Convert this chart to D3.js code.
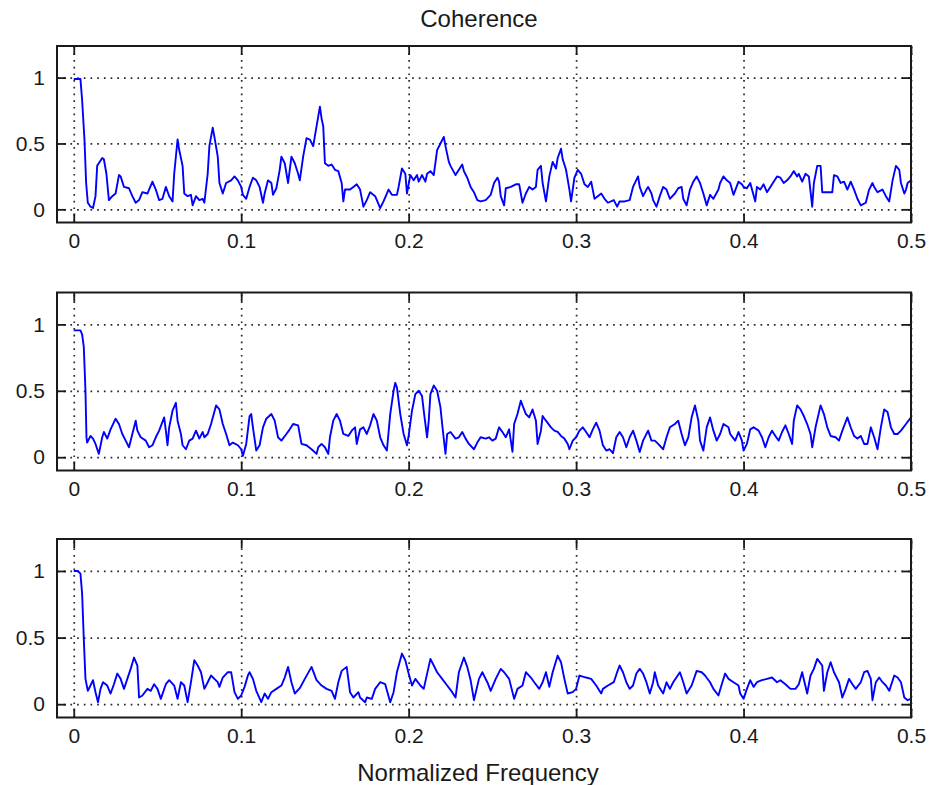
<!DOCTYPE html>
<html>
<head>
<meta charset="utf-8">
<script src="https://cdn.jsdelivr.net/npm/d3@7"></script>
<style>
  body { margin: 0; background: #fff; }
  svg text { font-family: "Liberation Sans", Arial, sans-serif; fill: #1a1a1a; }
</style>
</head>
<body>
<div id="chart"></div>
<script>
let xTicks = [0, 0.1, 0.2, 0.3, 0.4, 0.5];
let yTicks = [0, 0.5, 1];
let title = "Coherence";
let xLabel = "Normalized Frequency";

// [normalized frequency, coherence]
let coh1 = [
  [0,0.99],[0.004,0.99],[0.005,0.83],[0.0064,0.53],[0.0074,0.20],[0.0084,0.05],[0.010,0.02],[0.0115,0.01],[0.013,0.10],[0.014,0.33],[0.017,0.39],[0.018,0.38],[0.0195,0.27],[0.021,0.07],[0.023,0.10],[0.025,0.12],[0.027,0.26],[0.028,0.25],[0.030,0.17],[0.033,0.16],[0.035,0.10],[0.037,0.05],[0.039,0.07],[0.041,0.13],[0.044,0.12],[0.047,0.21],[0.049,0.15],[0.051,0.07],[0.053,0.08],[0.055,0.17],[0.057,0.10],[0.059,0.06],[0.060,0.27],[0.062,0.53],[0.063,0.45],[0.065,0.33],[0.066,0.12],[0.068,0.10],[0.070,0.11],[0.071,0.03],[0.073,0.10],[0.075,0.07],[0.077,0.08],[0.078,0.05],[0.080,0.27],[0.081,0.48],[0.083,0.62],[0.084,0.55],[0.086,0.40],[0.087,0.20],[0.089,0.12],[0.091,0.20],[0.094,0.22],[0.096,0.25],[0.098,0.22],[0.100,0.17],[0.101,0.11],[0.103,0.08],[0.105,0.17],[0.107,0.24],[0.109,0.22],[0.111,0.17],[0.113,0.05],[0.114,0.12],[0.116,0.22],[0.118,0.20],[0.119,0.11],[0.121,0.16],[0.123,0.30],[0.124,0.40],[0.126,0.35],[0.128,0.20],[0.129,0.30],[0.130,0.40],[0.132,0.35],[0.134,0.27],[0.135,0.22],[0.137,0.40],[0.139,0.54],[0.141,0.53],[0.143,0.48],[0.145,0.63],[0.147,0.78],
  [0.148,0.69],[0.149,0.63],[0.150,0.35],[0.152,0.33],[0.154,0.34],[0.156,0.30],[0.158,0.29],[0.160,0.20],[0.161,0.06],[0.162,0.15],[0.165,0.15],[0.167,0.17],[0.169,0.19],[0.171,0.15],[0.173,0.02],[0.175,0.07],[0.177,0.13],[0.180,0.10],[0.183,0.01],[0.185,0.06],[0.188,0.15],[0.190,0.11],[0.193,0.11],[0.194,0.17],[0.196,0.31],[0.198,0.27],[0.199,0.12],[0.201,0.26],[0.203,0.22],[0.205,0.26],[0.206,0.21],[0.208,0.26],[0.210,0.21],[0.211,0.27],[0.213,0.29],[0.215,0.26],[0.217,0.45],[0.219,0.50],[0.221,0.55],[0.222,0.48],[0.224,0.36],[0.225,0.33],[0.228,0.26],[0.230,0.30],[0.232,0.34],[0.233,0.29],[0.235,0.24],[0.237,0.17],[0.239,0.13],[0.241,0.07],[0.243,0.06],[0.246,0.07],[0.249,0.11],[0.251,0.20],[0.253,0.24],[0.254,0.21],[0.255,0.10],[0.257,0.03],[0.258,0.16],[0.261,0.17],[0.264,0.19],[0.266,0.19],[0.268,0.05],[0.270,0.12],[0.272,0.17],[0.274,0.15],[0.276,0.17],[0.277,0.30],[0.279,0.33],[0.280,0.20],[0.282,0.06],[0.284,0.25],[0.286,0.36],[0.288,0.31],[0.289,0.39],[0.291,0.46],[0.292,0.38],[0.294,0.30],[0.296,0.15],[0.297,0.06],[0.299,0.24],[0.301,0.30],[0.303,0.27],[0.305,0.19],[0.307,0.17],[0.309,0.21],[0.311,0.08],[0.313,0.10],[0.315,0.12],[0.317,0.08],[0.319,0.05],
  [0.3225,0.07],[0.3245,0.02],[0.326,0.06],[0.329,0.06],[0.332,0.07],[0.334,0.17],[0.337,0.25],[0.338,0.17],[0.340,0.10],[0.342,0.15],[0.343,0.17],[0.345,0.12],[0.346,0.07],[0.348,0.02],[0.350,0.10],[0.352,0.17],[0.354,0.15],[0.356,0.08],[0.359,0.12],[0.361,0.16],[0.363,0.17],[0.364,0.08],[0.366,0.03],[0.368,0.15],[0.370,0.21],[0.372,0.25],[0.374,0.20],[0.376,0.12],[0.378,0.03],[0.380,0.11],[0.382,0.08],[0.385,0.15],[0.386,0.20],[0.388,0.25],[0.390,0.22],[0.392,0.20],[0.394,0.11],[0.397,0.21],[0.399,0.19],[0.400,0.17],[0.402,0.16],[0.404,0.20],[0.407,0.06],[0.408,0.17],[0.410,0.15],[0.412,0.19],[0.414,0.13],[0.416,0.17],[0.418,0.21],[0.420,0.25],[0.422,0.24],[0.424,0.20],[0.426,0.22],[0.428,0.25],[0.430,0.29],[0.432,0.25],[0.433,0.27],[0.435,0.21],[0.437,0.27],[0.439,0.25],[0.441,0.02],[0.442,0.20],[0.444,0.33],[0.446,0.33],[0.447,0.13],[0.450,0.13],[0.453,0.13],[0.454,0.26],[0.456,0.25],[0.458,0.20],[0.460,0.21],[0.462,0.15],[0.464,0.21],[0.466,0.15],[0.468,0.08],[0.470,0.03],[0.473,0.05],[0.475,0.15],[0.477,0.20],[0.478,0.17],[0.480,0.13],[0.483,0.15],[0.485,0.10],[0.487,0.06],[0.489,0.22],[0.491,0.33],[0.493,0.30],[0.494,0.20],[0.496,0.12],[0.497,0.15],[0.498,0.20],[0.500,0.22]
];

let coh2 = [
  [0,0.955],[0.004,0.955],[0.005,0.925],[0.006,0.83],[0.007,0.50],[0.0076,0.15],[0.008,0.11],[0.010,0.16],[0.0115,0.14],[0.013,0.10],[0.015,0.025],[0.017,0.15],[0.018,0.19],[0.020,0.14],[0.022,0.21],[0.025,0.29],[0.027,0.25],[0.029,0.175],[0.031,0.125],[0.033,0.075],[0.035,0.175],[0.037,0.275],[0.038,0.20],[0.040,0.15],[0.043,0.125],[0.045,0.075],[0.047,0.09],[0.049,0.15],[0.051,0.20],[0.054,0.30],[0.055,0.20],[0.056,0.09],[0.057,0.225],[0.059,0.35],[0.061,0.41],[0.062,0.275],[0.064,0.175],[0.065,0.09],[0.067,0.06],[0.069,0.125],[0.071,0.14],[0.073,0.20],[0.075,0.14],[0.077,0.19],[0.078,0.15],[0.080,0.175],[0.082,0.25],[0.085,0.39],[0.087,0.36],[0.089,0.25],[0.091,0.175],[0.093,0.09],[0.095,0.11],[0.098,0.09],[0.100,0.06],[0.101,0.01],[0.103,0.10],[0.105,0.31],[0.106,0.325],[0.107,0.225],[0.109,0.05],[0.111,0.09],[0.113,0.225],[0.115,0.29],[0.118,0.325],[0.120,0.275],[0.122,0.15],[0.124,0.125],[0.127,0.175],[0.129,0.21],[0.131,0.25],[0.134,0.24],
  [0.136,0.10],[0.139,0.09],[0.142,0.06],[0.145,0.025],[0.146,0.075],[0.148,0.10],[0.150,0.075],[0.152,0.025],[0.153,0.15],[0.155,0.275],[0.157,0.325],[0.159,0.275],[0.161,0.175],[0.164,0.16],[0.166,0.20],[0.168,0.225],[0.169,0.10],[0.171,0.21],[0.173,0.225],[0.175,0.175],[0.177,0.24],[0.179,0.325],[0.181,0.275],[0.183,0.15],[0.185,0.09],[0.187,0.05],[0.189,0.325],[0.191,0.50],[0.192,0.56],[0.193,0.525],[0.195,0.325],[0.197,0.175],[0.199,0.09],[0.200,0.16],[0.202,0.35],[0.204,0.475],[0.206,0.50],[0.208,0.46],[0.209,0.35],[0.211,0.15],[0.212,0.275],[0.213,0.475],[0.215,0.54],[0.217,0.50],[0.219,0.375],[0.220,0.25],[0.222,0.025],[0.223,0.175],[0.225,0.19],[0.228,0.14],[0.230,0.15],[0.232,0.19],[0.234,0.14],[0.236,0.10],[0.239,0.06],[0.241,0.11],[0.243,0.15],[0.246,0.14],[0.248,0.15],[0.250,0.125],[0.252,0.14],[0.254,0.225],[0.256,0.19],[0.258,0.15],[0.260,0.21],[0.262,0.04],[0.263,0.25],[0.265,0.325],[0.267,0.425],[0.268,0.39],[0.270,0.325],[0.272,0.30],[0.274,0.36],[0.276,0.275],[0.277,0.10],[0.279,0.20],[0.280,0.31],[0.282,0.275],[0.285,0.225],[0.287,0.20],[0.289,0.19],[0.291,0.16],[0.293,0.14],[0.295,0.10],[0.296,0.06],[0.298,0.125],[0.300,0.15],[0.302,0.20],[0.304,0.225],[0.306,0.19],[0.308,0.15],[0.310,0.21],[0.312,0.26],[0.314,0.20],[0.316,0.09],[0.318,0.05],[0.320,0.06],
  [0.322,0.03],[0.324,0.15],[0.326,0.19],[0.328,0.15],[0.330,0.075],[0.332,0.15],[0.334,0.20],[0.336,0.125],[0.338,0.04],[0.340,0.125],[0.343,0.20],[0.345,0.125],[0.347,0.125],[0.349,0.10],[0.352,0.06],[0.354,0.15],[0.356,0.225],[0.359,0.25],[0.361,0.275],[0.363,0.175],[0.365,0.09],[0.367,0.15],[0.369,0.30],[0.371,0.39],[0.373,0.275],[0.374,0.125],[0.376,0.05],[0.378,0.225],[0.380,0.30],[0.382,0.20],[0.384,0.125],[0.386,0.175],[0.388,0.25],[0.391,0.225],[0.392,0.175],[0.395,0.125],[0.397,0.19],[0.399,0.125],[0.400,0.05],[0.402,0.10],[0.404,0.21],[0.406,0.225],[0.409,0.20],[0.411,0.15],[0.413,0.075],[0.415,0.15],[0.417,0.20],[0.419,0.16],[0.421,0.125],[0.423,0.19],[0.425,0.24],[0.427,0.175],[0.429,0.10],[0.430,0.275],[0.432,0.39],[0.434,0.36],[0.436,0.31],[0.438,0.25],[0.440,0.175],[0.441,0.075],[0.443,0.225],[0.446,0.39],[0.448,0.325],[0.450,0.225],[0.452,0.16],[0.455,0.15],[0.457,0.125],[0.459,0.20],[0.462,0.30],[0.464,0.225],[0.466,0.16],[0.468,0.14],[0.470,0.16],[0.472,0.10],[0.474,0.10],[0.476,0.225],[0.478,0.15],[0.480,0.06],[0.482,0.225],[0.484,0.36],[0.486,0.34],[0.488,0.225],[0.490,0.175],[0.492,0.175],[0.494,0.20],[0.497,0.25],[0.500,0.30]
];

let coh3 = [
  [0,1.0],[0.0024,1.0],[0.004,0.98],[0.005,0.83],[0.006,0.49],[0.007,0.19],[0.0084,0.10],[0.010,0.14],[0.0115,0.18],[0.013,0.09],[0.0145,0.015],[0.016,0.115],[0.0175,0.165],[0.020,0.14],[0.022,0.08],[0.024,0.15],[0.026,0.23],[0.028,0.19],[0.030,0.115],[0.032,0.19],[0.034,0.265],[0.036,0.35],[0.038,0.29],[0.039,0.05],[0.041,0.065],[0.044,0.115],[0.046,0.10],[0.048,0.15],[0.050,0.115],[0.052,0.04],[0.055,0.15],[0.057,0.18],[0.060,0.14],[0.062,0.04],[0.064,0.165],[0.066,0.14],[0.068,0.015],[0.070,0.165],[0.072,0.33],[0.074,0.29],[0.076,0.24],[0.078,0.115],[0.080,0.165],[0.082,0.215],[0.084,0.19],[0.086,0.165],[0.087,0.13],[0.089,0.20],[0.092,0.24],[0.094,0.24],[0.096,0.09],[0.098,0.04],[0.100,0.065],[0.102,0.13],[0.104,0.215],[0.105,0.24],[0.107,0.19],[0.109,0.10],[0.112,0.015],[0.114,0.08],[0.116,0.04],[0.118,0.09],[0.121,0.115],[0.124,0.14],[0.126,0.20],[0.128,0.28],[0.130,0.165],[0.132,0.08],
  [0.135,0.12],[0.138,0.19],[0.142,0.28],[0.145,0.18],[0.148,0.14],[0.151,0.115],[0.154,0.10],[0.156,0.04],[0.158,0.165],[0.160,0.25],[0.163,0.28],[0.165,0.09],[0.167,0.05],[0.170,0.09],[0.171,0.05],[0.174,0.015],[0.175,0.05],[0.178,0.04],[0.180,0.115],[0.183,0.165],[0.186,0.15],[0.189,0.015],[0.191,0.09],[0.193,0.24],[0.196,0.38],[0.198,0.33],[0.200,0.23],[0.202,0.14],[0.204,0.19],[0.207,0.14],[0.209,0.115],[0.213,0.34],[0.215,0.29],[0.217,0.24],[0.220,0.19],[0.223,0.14],[0.226,0.09],[0.228,0.05],[0.230,0.24],[0.233,0.35],[0.235,0.28],[0.237,0.18],[0.239,0.03],[0.242,0.19],[0.244,0.24],[0.247,0.165],[0.249,0.10],[0.252,0.19],[0.255,0.265],[0.257,0.24],[0.260,0.19],[0.263,0.04],[0.265,0.115],[0.268,0.14],[0.270,0.24],[0.273,0.20],[0.275,0.165],[0.278,0.115],[0.280,0.165],[0.282,0.24],[0.284,0.13],[0.286,0.24],[0.289,0.365],[0.291,0.315],[0.293,0.19],[0.295,0.08],[0.298,0.09],[0.300,0.115],[0.302,0.215],[0.306,0.20],[0.309,0.19],[0.312,0.14],[0.315,0.08],[0.316,0.115],[0.319,0.14],
  [0.3225,0.165],[0.3245,0.24],[0.326,0.29],[0.328,0.24],[0.330,0.165],[0.332,0.115],[0.334,0.14],[0.336,0.23],[0.338,0.265],[0.340,0.23],[0.342,0.165],[0.344,0.08],[0.346,0.165],[0.347,0.24],[0.349,0.14],[0.352,0.08],[0.354,0.165],[0.356,0.115],[0.358,0.165],[0.362,0.24],[0.364,0.165],[0.366,0.08],[0.369,0.14],[0.372,0.25],[0.375,0.24],[0.377,0.215],[0.380,0.165],[0.382,0.115],[0.385,0.065],[0.387,0.15],[0.389,0.23],[0.391,0.19],[0.394,0.165],[0.397,0.14],[0.398,0.08],[0.400,0.04],[0.402,0.115],[0.404,0.18],[0.406,0.13],[0.408,0.165],[0.411,0.18],[0.414,0.19],[0.417,0.20],[0.420,0.165],[0.422,0.18],[0.425,0.15],[0.428,0.115],[0.431,0.115],[0.433,0.15],[0.435,0.24],[0.438,0.08],[0.440,0.215],[0.442,0.265],[0.444,0.34],[0.447,0.29],[0.448,0.10],[0.450,0.24],[0.452,0.315],[0.454,0.24],[0.457,0.165],[0.459,0.05],[0.461,0.115],[0.463,0.19],[0.465,0.15],[0.467,0.115],[0.470,0.165],[0.472,0.24],[0.474,0.25],[0.476,0.19],[0.477,0.03],[0.479,0.165],[0.481,0.20],[0.483,0.165],[0.485,0.14],[0.487,0.10],[0.490,0.215],[0.492,0.20],[0.494,0.165],[0.496,0.05],[0.498,0.03],[0.500,0.04]
];

let panels = [coh1, coh2, coh3];

let width = 934, height = 785;
let left = 57, right = 911;
let tops = [46, 292.5, 539];
let bottoms = [222.5, 470.5, 717.5];
let tickLen = 9;
let ink = "#1a1a1a";

let svg = d3.select("#chart").append("svg")
  .attr("width", width)
  .attr("height", height);

let x = d3.scaleLinear().domain([-0.01, 0.5]).range([left, right]);

let styleAxis = (a) => {
  a.select(".domain").remove();
  a.attr("font-family", null).attr("font-size", 21);
  a.selectAll("line").attr("stroke", ink).attr("stroke-width", 1.8);
  a.selectAll("text").attr("fill", ink);
};

let drawPanel = (data, i) => {
  let top = tops[i], bottom = bottoms[i];
  let h = bottom - top;
  let y = d3.scaleLinear().domain([-0.1, 1.24]).range([bottom, top]);
  let g = svg.append("g");

  // dotted grid
  let grid = g.append("g").attr("class", "grid");
  grid.append("g")
    .attr("transform", `translate(0,${bottom})`)
    .call(d3.axisBottom(x).tickValues(xTicks).tickSize(-h).tickFormat(""))
    .call(a => a.select(".domain").remove());
  grid.append("g")
    .attr("transform", `translate(${left},0)`)
    .call(d3.axisLeft(y).tickValues(yTicks).tickSize(-(right - left)).tickFormat(""))
    .call(a => a.select(".domain").remove());
  grid.selectAll("line")
    .attr("stroke", "#2a2a2a")
    .attr("stroke-width", 1.7)
    .attr("stroke-dasharray", "1.7,5");

  // coherence trace
  let clipId = "clip" + i;
  g.append("clipPath").attr("id", clipId)
    .append("rect").attr("x", left).attr("y", top).attr("width", right - left).attr("height", h);

  let line = d3.line().x(d => x(d[0])).y(d => y(d[1]));
  g.append("path")
    .datum(data)
    .attr("clip-path", `url(#${clipId})`)
    .attr("fill", "none")
    .attr("stroke", "#0000ff")
    .attr("stroke-width", 1.9)
    .attr("stroke-linejoin", "round")
    .attr("d", line);

  // box
  g.append("rect")
    .attr("x", left).attr("y", top)
    .attr("width", right - left).attr("height", h)
    .attr("fill", "none")
    .attr("stroke", ink)
    .attr("stroke-width", 2);

  // ticks on all four sides, labels bottom and left
  g.append("g")
    .attr("transform", `translate(0,${bottom})`)
    .call(d3.axisBottom(x).tickValues(xTicks).tickSize(-tickLen).tickPadding(11).tickFormat(d => d))
    .call(styleAxis);
  g.append("g")
    .attr("transform", `translate(0,${top})`)
    .call(d3.axisTop(x).tickValues(xTicks).tickSize(-tickLen).tickFormat(""))
    .call(styleAxis);
  g.append("g")
    .attr("transform", `translate(${left},0)`)
    .call(d3.axisLeft(y).tickValues(yTicks).tickSize(-tickLen).tickPadding(12).tickFormat(d => d))
    .call(styleAxis);
  g.append("g")
    .attr("transform", `translate(${right},0)`)
    .call(d3.axisRight(y).tickValues(yTicks).tickSize(-tickLen).tickFormat(""))
    .call(styleAxis);
};

panels.forEach((d, i) => drawPanel(d, i));

svg.append("text")
  .attr("x", 479).attr("y", 27)
  .attr("text-anchor", "middle")
  .attr("font-size", 24)
  .text(title);

svg.append("text")
  .attr("x", 478).attr("y", 781)
  .attr("text-anchor", "middle")
  .attr("font-size", 24)
  .text(xLabel);
</script>
</body>
</html>
